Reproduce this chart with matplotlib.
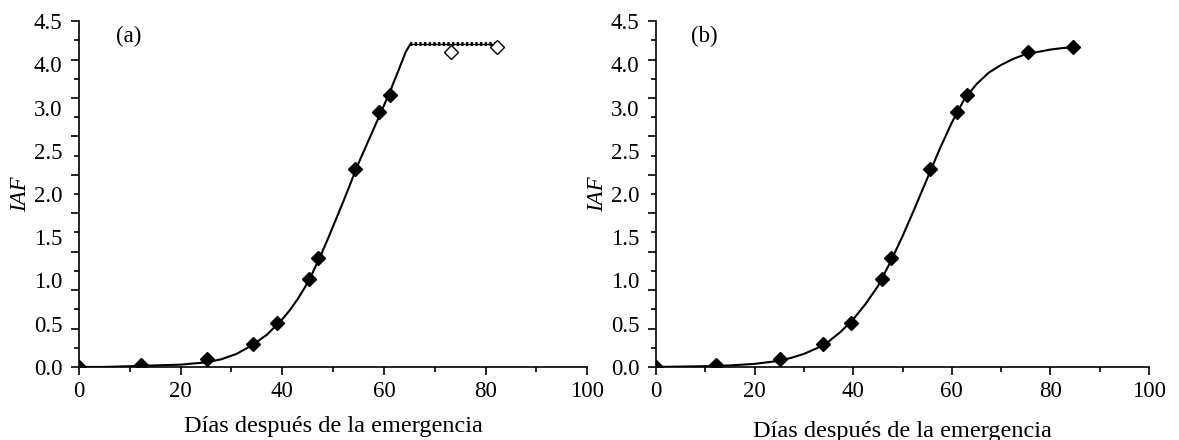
import numpy as np
import matplotlib
matplotlib.use("Agg")
import matplotlib.pyplot as plt

plt.rcParams['font.family'] = ['Liberation Serif', 'DejaVu Serif']

# Panel (a): measured IAF points (filled) and the two plateau points (open)
a_days = [0, 12.2, 25.2, 34.2, 39.0, 45.3, 47.0, 54.3, 59.1, 61.2]
a_iaf = [0.0, 0.02, 0.10, 0.30, 0.57, 1.14, 1.42, 2.57, 3.32, 3.54]
a_open_days = [73.2, 82.3]
a_open_iaf = [4.10, 4.16]
# fitted curve (a)
a_fit_days = [0, 5, 10, 15, 20, 25, 28, 31, 34, 37, 40, 41.5, 43, 44.5, 46,
              47.5, 49, 52, 55, 58, 61, 63, 64.3, 65.2]
a_fit_iaf = [0.0, 0.0, 0.01, 0.02, 0.03, 0.06, 0.10, 0.17, 0.28, 0.42, 0.62,
             0.74, 0.88, 1.04, 1.23, 1.44, 1.67, 2.15, 2.65, 3.10, 3.55, 3.88,
             4.10, 4.20]
a_plateau_days = [65.2, 82.3]
a_plateau_iaf = [4.20, 4.20]

# Panel (b)
b_days = [0, 12.2, 25.2, 33.9, 39.6, 45.8, 47.7, 55.6, 61.0, 63.1, 75.5, 84.6]
b_iaf = [0.0, 0.02, 0.10, 0.30, 0.57, 1.14, 1.42, 2.57, 3.32, 3.54, 4.10, 4.16]
b_fit_days = [0, 5, 10, 15, 20, 25, 27.5, 30, 32.5, 35, 37.5, 40, 42.5, 45,
              47.5, 50, 52.5, 55, 57.5, 60, 62.5, 65, 67.5, 70, 72.5, 75,
              77.5, 80, 82.5, 84.6]
b_fit_iaf = [0.0, 0.005, 0.01, 0.02, 0.04, 0.08, 0.12, 0.17, 0.24, 0.33, 0.46,
             0.62, 0.82, 1.05, 1.36, 1.70, 2.07, 2.45, 2.83, 3.18, 3.48, 3.68,
             3.83, 3.93, 4.01, 4.07, 4.10, 4.13, 4.15, 4.16]

# y tick labels as printed in the original
ylabels = ['0.0', '0.5', '1.0', '1.5', '2.0', '2.5', '3.0', '4.0', '4.5']
xticks = [0, 20, 40, 60, 80, 100]

fig = plt.figure(figsize=(11.79, 4.40), dpi=100)
ax_a = fig.add_axes([0.067, 0.166, 0.431, 0.786])
ax_b = fig.add_axes([0.5564, 0.166, 0.4182, 0.786])


def style_axis(ax, tag):
    ax.set_xlim(0, 100)
    ax.set_ylim(0, 4.5)
    for s in ['top', 'right']:
        ax.spines[s].set_visible(False)
    for s in ['left', 'bottom']:
        ax.spines[s].set_linewidth(1.2)
    ax.set_xticks(xticks)
    ax.set_xticks(np.arange(10, 100, 20), minor=True)
    ax.set_yticks(np.arange(0, 4.51, 0.5))
    ax.set_yticks(np.arange(0.25, 4.5, 0.5), minor=True)
    ax.tick_params(axis='x', which='major', direction='out', length=6, width=1.2,
                   labelsize=16.5, pad=4)
    ax.tick_params(axis='x', which='minor', direction='out', length=3.5, width=1.2)
    ax.tick_params(axis='y', which='major', direction='out', length=6, width=1.2,
                   labelleft=False)
    ax.tick_params(axis='y', which='minor', direction='out', length=3.5, width=1.2)
    # printed labels sit evenly spaced, not on the ticks
    sec = ax.secondary_yaxis('left')
    sec.spines['left'].set_visible(False)
    sec.set_yticks(np.linspace(0, 4.5, len(ylabels)))
    sec.set_yticklabels(ylabels)
    sec.tick_params(axis='y', length=0, labelsize=16.5, pad=12)
    sec.set_ylabel('IAF', fontsize=16.5, fontstyle='italic', labelpad=2)
    ax.text(0.072, 0.955, tag, transform=ax.transAxes, fontsize=16.5,
            ha='left', va='center')


style_axis(ax_a, '(a)')
style_axis(ax_b, '(b)')

# panel (a)
ax_a.plot(a_fit_days, a_fit_iaf, color='black', lw=1.5)
ax_a.plot(a_plateau_days, a_plateau_iaf, color='black', lw=1.0)
ax_a.plot(a_plateau_days, a_plateau_iaf, color='black', lw=2.8, ls=(0, (0.6, 0.6)))
ax_a.plot(a_days, a_iaf, ls='none', marker='D', ms=7, color='black')
ax_a.plot(a_open_days, a_open_iaf, ls='none', marker='D', ms=7,
          markerfacecolor='white', markeredgecolor='black', markeredgewidth=1.0)
ax_a.set_xlabel('Días después de la emergencia', fontsize=17.5, labelpad=10)

# panel (b)
ax_b.plot(b_fit_days, b_fit_iaf, color='black', lw=1.5)
ax_b.plot(b_days, b_iaf, ls='none', marker='D', ms=7, color='black')
ax_b.set_xlabel('Días después de la emergencia', fontsize=17.5, labelpad=14)

fig.savefig('out.png', dpi=100)
